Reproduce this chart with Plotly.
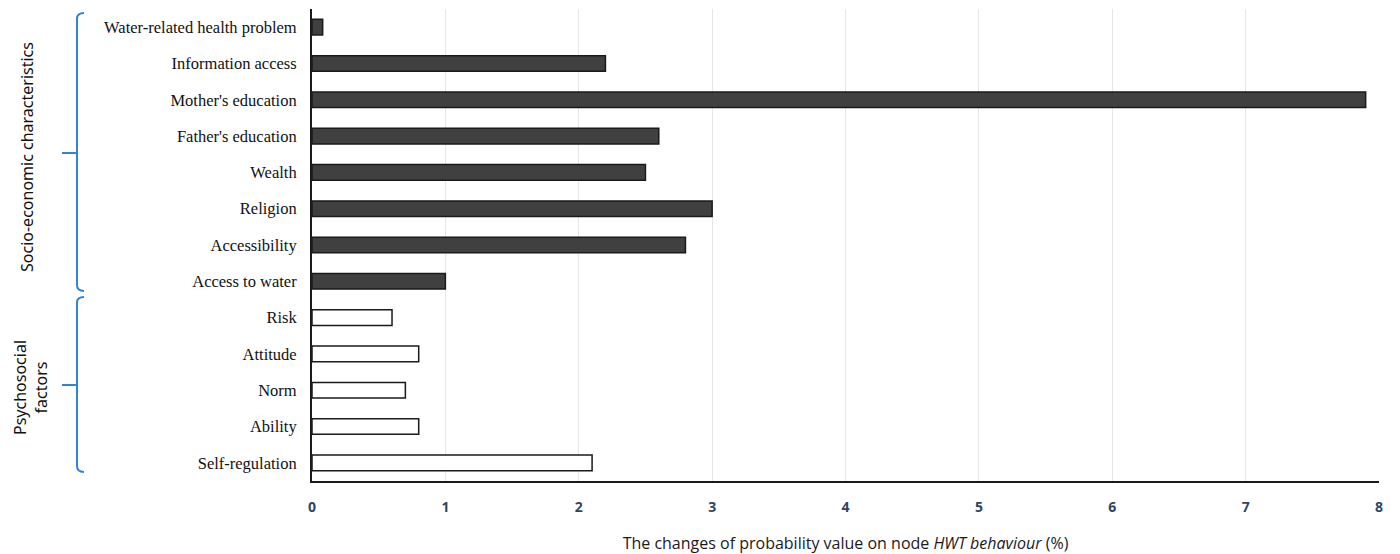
import plotly.graph_objects as go

# Data
socio_labels = ["Water-related health problem", "Information access", "Mother's education",
                "Father's education", "Wealth", "Religion", "Accessibility", "Access to water"]
socio_values = [0.08, 2.2, 7.9, 2.6, 2.5, 3.0, 2.8, 1.0]
psycho_labels = ["Risk", "Attitude", "Norm", "Ability", "Self-regulation"]
psycho_values = [0.6, 0.8, 0.7, 0.8, 2.1]
x_ticks = [0, 1, 2, 3, 4, 5, 6, 7, 8]
group_names = ["Socio-economic characteristics", "Psychosocial<br>factors"]

all_labels = socio_labels + psycho_labels

fig = go.Figure()
fig.add_trace(go.Bar(
    y=socio_labels, x=socio_values, orientation="h",
    marker=dict(color="#404040", line=dict(color="#1a1a1a", width=1.5)),
    width=0.43, showlegend=False))
fig.add_trace(go.Bar(
    y=psycho_labels, x=psycho_values, orientation="h",
    marker=dict(color="white", line=dict(color="#1a1a1a", width=1.5)),
    width=0.43, showlegend=False))

# page has an 8px body margin; plot area in page pixels: x 312..1379, y 9..481
OFF = 8
W, H = 1400 - OFF, 554 - OFF
PL, PR, PT, PB = 312, 1379, 9, 481
L, R, T, B = PL - OFF, (OFF + W) - PR, PT - OFF, (OFF + H) - PB
pw, ph = PR - PL, PB - PT

def px(x):
    return (x - PL) / pw

def py(y):
    return (PB - y) / ph

shapes = []
def bracket(top, bottom, mid, xline=77, hook=84, tick=62):
    xl, xh, xt = px(xline), px(hook), px(tick)
    yt, yb, ym = py(top), py(bottom), py(mid)
    r = 0.006
    path = (f"M {xh},{yt} Q {xl},{yt} {xl},{yt - r*2} L {xl},{yb + r*2} Q {xl},{yb} {xh},{yb}")
    shapes.append(dict(type="path", path=path, xref="paper", yref="paper",
                       line=dict(color="#2f86d6", width=2)))
    shapes.append(dict(type="line", x0=xt, x1=xl, y0=ym, y1=ym, xref="paper", yref="paper",
                       line=dict(color="#2f86d6", width=2)))

bracket(13, 291, 153)
bracket(297, 472, 385)

annotations = [
    dict(text=group_names[0], x=px(27), y=py(157), xref="paper", yref="paper",
         xanchor="center", yanchor="middle",
         textangle=-90, showarrow=False, font=dict(family="Noto Sans", size=16, color="#111")),
    dict(text=group_names[1], x=px(30), y=py(388), xref="paper", yref="paper",
         xanchor="center", yanchor="middle",
         textangle=-90, showarrow=False, font=dict(family="Noto Sans", size=16, color="#111")),
]

fig.update_layout(
    width=W, height=H,
    margin=dict(l=L, r=R, t=T, b=B),
    paper_bgcolor="white", plot_bgcolor="white",
    shapes=shapes, annotations=annotations,
    xaxis=dict(range=[0, 8], tickvals=x_ticks, showgrid=True, gridcolor="#e6e6e6", gridwidth=1,
               zeroline=False, showline=True, linecolor="#1a1a1a", linewidth=2,
               tickfont=dict(family="Open Sans", size=14, color="#2e4563", weight="bold"),
               ticklabelstandoff=12,
               title=dict(text="The changes of probability value on node <i>HWT behaviour</i> (%)",
                          font=dict(family="Open Sans", size=16, color="#1a1a1a"), standoff=23)),
    yaxis=dict(categoryorder="array", categoryarray=all_labels, autorange="reversed",
               showline=True, linecolor="#1a1a1a", linewidth=2, showgrid=False,
               tickfont=dict(family="Liberation Serif", size=16.5, color="#111"),
               ticklabelstandoff=10),
)

fig.write_html("out.html")
